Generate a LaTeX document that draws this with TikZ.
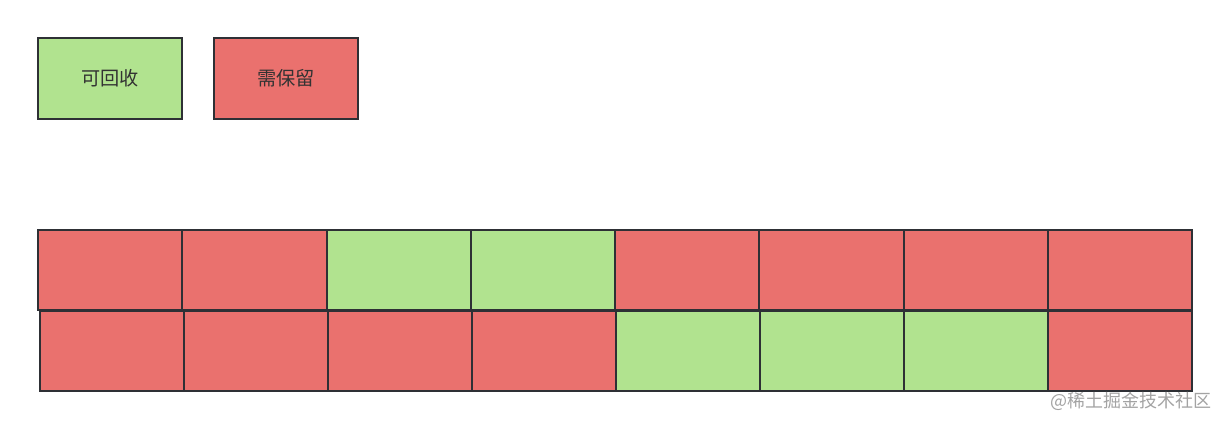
\documentclass[tikz,border=0pt]{standalone}
\usepackage{fontspec}
\newfontfamily\cjk{Noto Sans CJK SC}
\usetikzlibrary{positioning}
\definecolor{freegreen}{HTML}{B1E38F}
\definecolor{keepred}{HTML}{EA716E}
\definecolor{edgegray}{HTML}{2E3035}
\definecolor{labeltext}{HTML}{333333}
\definecolor{markgray}{HTML}{A3A3A3}
\tikzset{
  cell/.style    = {draw=edgegray, line width=1pt, rectangle, inner sep=0pt,
                    anchor=north west, minimum height=40pt},
  legend/.style  = {cell, minimum width=72pt, minimum height=40.5pt,
                    text=labeltext, font=\cjk\fontsize{9.6}{11}\selectfont},
  wmark/.style   = {text=markgray, font=\cjk\fontsize{9}{10}\selectfont},
}
\begin{document}
\begin{tikzpicture}[x=0.5pt,y=-0.5pt]
\useasboundingbox (0,0) rectangle (1228,427);
% legend
\node[legend,fill=freegreen] (free) at (37,37) {可回收};
\node[legend,fill=keepred,right=15pt of free.north east,anchor=north west] (keep) {需保留};
% memory blocks, two rows
\foreach \c [count=\i] in {keepred,keepred,freegreen,freegreen,keepred,keepred,keepred,keepred}
  \node[cell,fill=\c,minimum width=72.125pt] (a\i) at ({37+144.25*(\i-1)},229) {};
\foreach \c [count=\i] in {keepred,keepred,keepred,keepred,freegreen,freegreen,freegreen,keepred}
  \node[cell,fill=\c,minimum width=72pt] (b\i) at ({39+144*(\i-1)},310) {};
\node[wmark] (mark) at (1131,401) {@稀土掘金技术社区};
\end{tikzpicture}
\end{document}
